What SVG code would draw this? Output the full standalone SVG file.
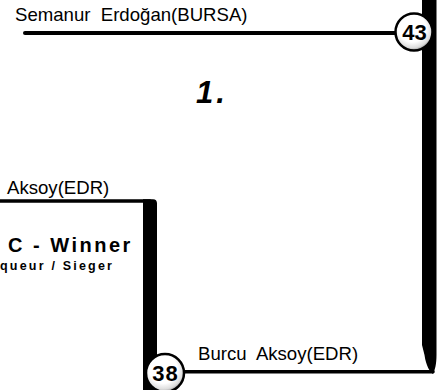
<svg xmlns="http://www.w3.org/2000/svg" width="444" height="390" viewBox="0 0 444 390">
<style>
.name{font-family:"Liberation Sans",Arial,sans-serif;font-size:18.6px;fill:#000}
.num{font-family:"Liberation Sans",Arial,sans-serif;font-size:22px;font-weight:bold;fill:#000;text-anchor:middle}
.ball{fill:url(#ballg);stroke:#000;stroke-width:2.5}
.line{stroke:#000;fill:none;stroke-linecap:round}
.bar{fill:#000}
</style>
<defs>
<radialGradient id="ballg" cx="45%" cy="40%" r="62%">
<stop offset="0" stop-color="#fff"/>
<stop offset="0.6" stop-color="#fff"/>
<stop offset="0.85" stop-color="#ddd"/>
<stop offset="1" stop-color="#888"/>
</radialGradient>
</defs>
<rect width="444" height="390" fill="#fff"/>
<g id="connectors">
<line class="line" x1="25" y1="33" x2="400" y2="33" stroke-width="4"/>
<path class="bar" d="M422,0 L436.5,0 L436.5,355 C436.5,364 435,370 433,374 C430,372 426,366 424.5,355 L422,345 Z"/>
<line class="line" x1="180" y1="371.8" x2="433" y2="371.8" stroke-width="3.5" stroke-linecap="butt"/>
<line class="line" x1="-2" y1="201" x2="150" y2="201" stroke-width="3.5" stroke-linecap="butt"/>
<path class="bar" d="M143,199.2 L153,199.2 Q157,199.2 157,203.5 L157,390 L143,390 Z"/>
</g>
<g id="title">
<text class="name" x="15" y="21" xml:space="preserve">Semanur  Erdoğan(BURSA)</text>
<text x="196" y="103" font-family="Liberation Sans, Arial, sans-serif" font-size="31" font-weight="bold" font-style="italic" letter-spacing="3">1.</text>
</g>
<g id="match-43">
<circle class="ball" cx="414" cy="32" r="18.5"/>
<text class="num" x="414.5" y="40">43</text>
</g>
<g id="winner">
<text class="name" x="7" y="194">Aksoy(EDR)</text>
<text x="8" y="251.5" font-family="Liberation Sans, Arial, sans-serif" font-size="20" font-weight="bold" letter-spacing="2.5">C - Winner</text>
<text x="0" y="270" font-family="Liberation Sans, Arial, sans-serif" font-size="12.5" font-weight="bold" letter-spacing="2.2">queur / Sieger</text>
</g>
<g id="match-38">
<text class="name" x="198" y="360" font-size="18" xml:space="preserve">Burcu  Aksoy(EDR)</text>
<circle class="ball" cx="165" cy="373" r="19"/>
<text class="num" x="165.5" y="381" font-size="23" letter-spacing="1">38</text>
</g>
</svg>
